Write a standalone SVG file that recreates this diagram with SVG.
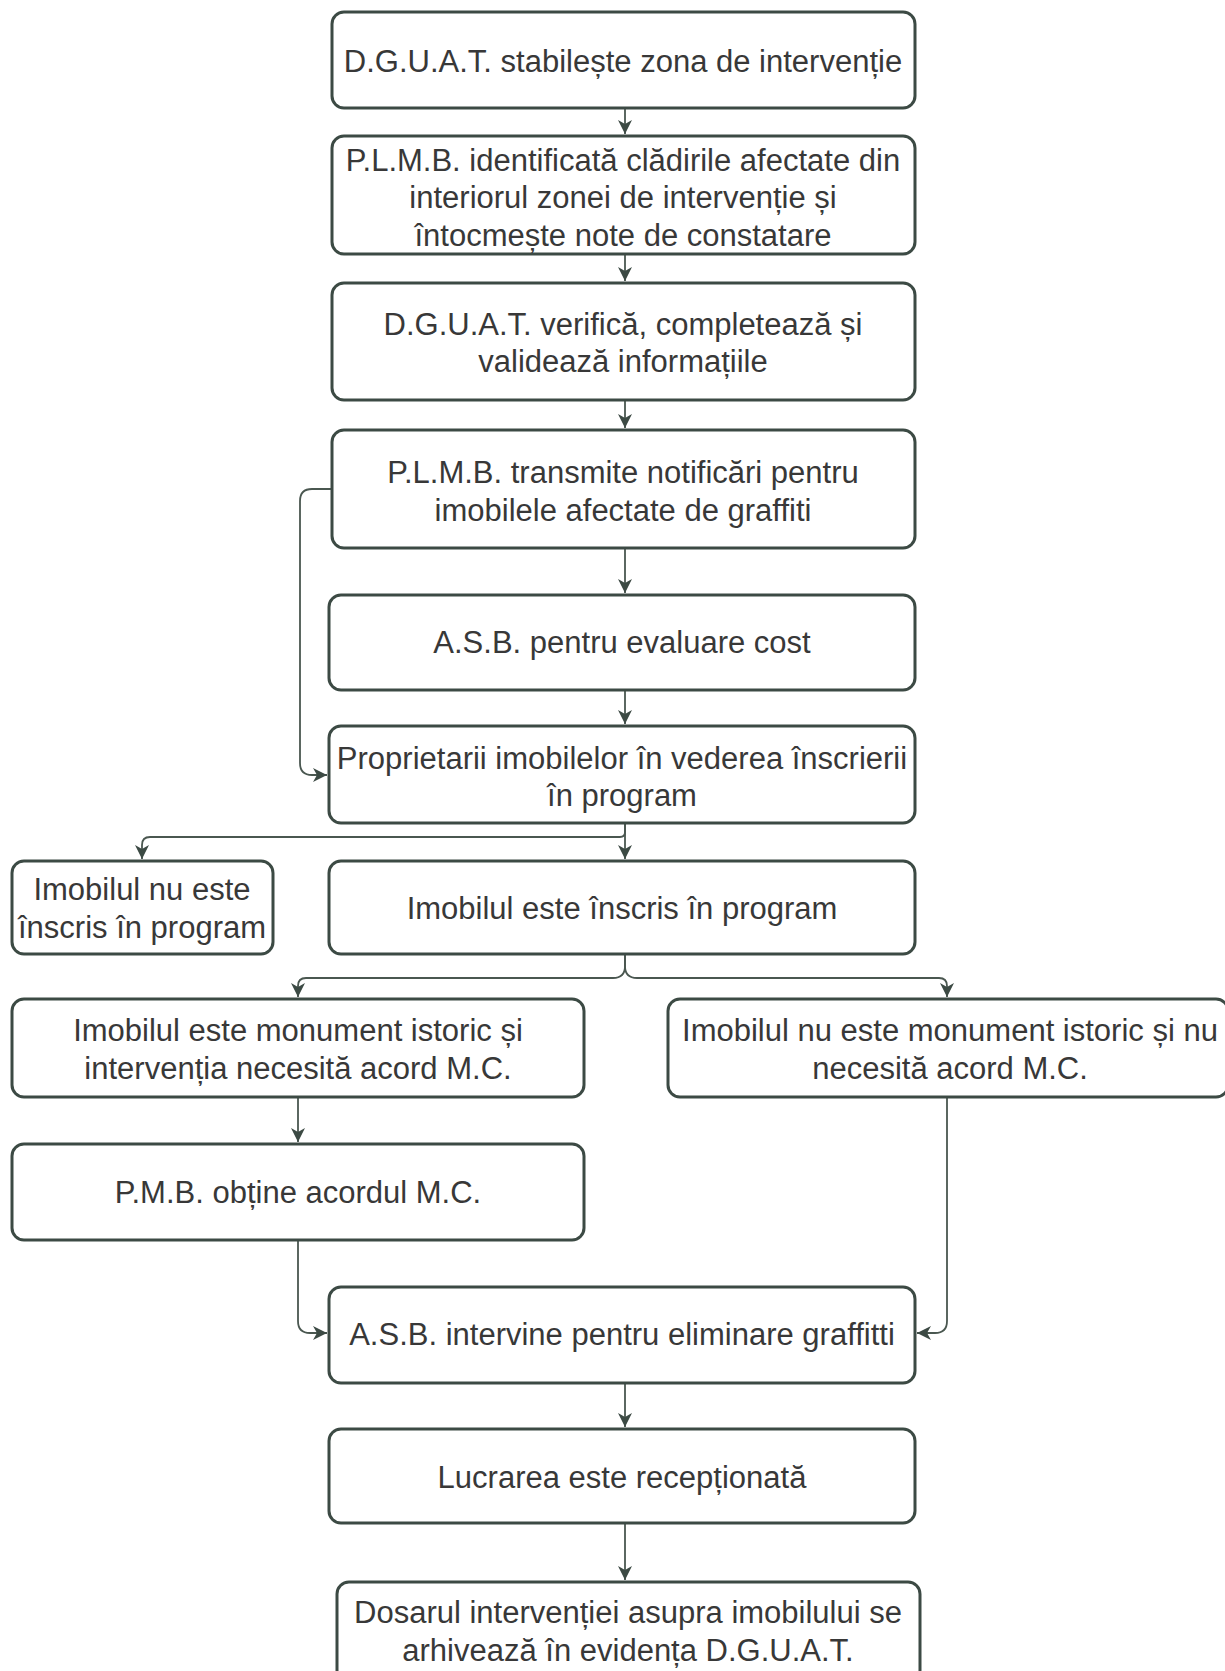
<svg xmlns="http://www.w3.org/2000/svg" width="1225" height="1671" viewBox="0 0 1225 1671">
<style>
.box{fill:#ffffff;stroke:#3c4a44;stroke-width:3}
.t{font-family:"Liberation Sans",Arial,sans-serif;font-size:31px;fill:#383838;text-anchor:middle}
.c{fill:none;stroke:#4a5750;stroke-width:1.8}
</style>
<defs>
<marker id="ah" markerUnits="userSpaceOnUse" markerWidth="16" markerHeight="16" refX="14" refY="8" orient="auto">
<path d="M0,1 L14,8 L0,15 L4,8 Z" fill="#3c4a44"/>
</marker>
</defs>
<rect width="1225" height="1671" fill="#ffffff"/>
<g id="connectors">
<path class="c" d="M625,108 V134" marker-end="url(#ah)"/>
<path class="c" d="M625,254 V281" marker-end="url(#ah)"/>
<path class="c" d="M625,400 V428" marker-end="url(#ah)"/>
<path class="c" d="M625,548 V593" marker-end="url(#ah)"/>
<path class="c" d="M625,690 V724" marker-end="url(#ah)"/>
<path class="c" d="M332,489 H312 Q300,489 300,501 V763 Q300,775 312,775 H327" marker-end="url(#ah)"/>
<path class="c" d="M625,823 V859" marker-end="url(#ah)"/>
<path class="c" d="M625,823 V832 Q625,837 620,837 H150 Q142,837 142,845 V859" marker-end="url(#ah)"/>
<path class="c" d="M625,954 V966 Q625,978 613,978 H306 Q298,978 298,986 V997" marker-end="url(#ah)"/>
<path class="c" d="M625,954 V966 Q625,978 637,978 H939 Q947,978 947,986 V997" marker-end="url(#ah)"/>
<path class="c" d="M298,1097 V1142" marker-end="url(#ah)"/>
<path class="c" d="M298,1240 V1321 Q298,1333 310,1333 H327" marker-end="url(#ah)"/>
<path class="c" d="M947,1097 V1321 Q947,1333 935,1333 H917" marker-end="url(#ah)"/>
<path class="c" d="M625,1383 V1427" marker-end="url(#ah)"/>
<path class="c" d="M625,1523 V1580" marker-end="url(#ah)"/>
</g>
<g id="n1"><rect class="box" x="332" y="12" width="583" height="96" rx="12"/>
<text class="t" x="623" y="72">D.G.U.A.T. stabilește zona de intervenție</text></g>
<g id="n2"><rect class="box" x="332" y="136" width="583" height="118" rx="12"/>
<text class="t" x="623" y="171">P.L.M.B. identificată clădirile afectate din</text>
<text class="t" x="623" y="208">interiorul zonei de intervenție și</text>
<text class="t" x="623" y="246">întocmește note de constatare</text></g>
<g id="n3"><rect class="box" x="332" y="283" width="583" height="117" rx="12"/>
<text class="t" x="623" y="335">D.G.U.A.T. verifică, completează și</text>
<text class="t" x="623" y="372">validează informațiile</text></g>
<g id="n4"><rect class="box" x="332" y="430" width="583" height="118" rx="12"/>
<text class="t" x="623" y="483">P.L.M.B. transmite notificări pentru</text>
<text class="t" x="623" y="521">imobilele afectate de graffiti</text></g>
<g id="n5"><rect class="box" x="329" y="595" width="586" height="95" rx="12"/>
<text class="t" x="622" y="653">A.S.B. pentru evaluare cost</text></g>
<g id="n6"><rect class="box" x="329" y="726" width="586" height="97" rx="12"/>
<text class="t" x="622" y="769">Proprietarii imobilelor în vederea înscrierii</text>
<text class="t" x="622" y="806">în program</text></g>
<g id="n7"><rect class="box" x="12" y="861" width="261" height="93" rx="12"/>
<text class="t" x="142" y="900">Imobilul nu este</text>
<text class="t" x="142" y="938">înscris în program</text></g>
<g id="n8"><rect class="box" x="329" y="861" width="586" height="93" rx="12"/>
<text class="t" x="622" y="919">Imobilul este înscris în program</text></g>
<g id="n9"><rect class="box" x="12" y="999" width="572" height="98" rx="12"/>
<text class="t" x="298" y="1041">Imobilul este monument istoric și</text>
<text class="t" x="298" y="1079">intervenția necesită acord M.C.</text></g>
<g id="n10"><rect class="box" x="668" y="999" width="560" height="98" rx="12"/>
<text class="t" x="950" y="1041">Imobilul nu este monument istoric și nu</text>
<text class="t" x="950" y="1079">necesită acord M.C.</text></g>
<g id="n11"><rect class="box" x="12" y="1144" width="572" height="96" rx="12"/>
<text class="t" x="298" y="1203">P.M.B. obține acordul M.C.</text></g>
<g id="n12"><rect class="box" x="329" y="1287" width="586" height="96" rx="12"/>
<text class="t" x="622" y="1345">A.S.B. intervine pentru eliminare graffitti</text></g>
<g id="n13"><rect class="box" x="329" y="1429" width="586" height="94" rx="12"/>
<text class="t" x="622" y="1488">Lucrarea este recepționată</text></g>
<g id="n14"><rect class="box" x="337" y="1582" width="583" height="100" rx="12"/>
<text class="t" x="628" y="1623">Dosarul intervenției asupra imobilului se</text>
<text class="t" x="628" y="1661">arhivează în evidența D.G.U.A.T.</text></g>
</svg>
